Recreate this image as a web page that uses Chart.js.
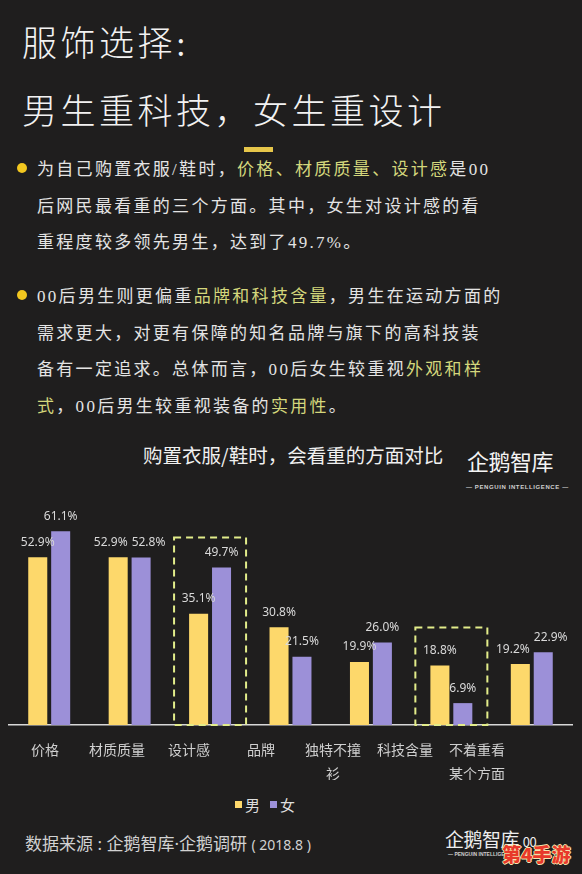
<!DOCTYPE html>
<html>
<head>
<meta charset="utf-8">
<script src="https://cdn.jsdelivr.net/npm/chart.js@4.4.0/dist/chart.umd.min.js"></script>
<style>
  body { margin: 0; background: #1f1e1e; width: 582px; height: 874px; overflow: hidden; position: relative; font-family: 'Noto Sans CJK SC', sans-serif; }
  .abs { position: absolute; white-space: nowrap; }
  .title { left: 22px; font-size: 35px; letter-spacing: 3.5px; color: #f2f2f2; line-height: 48px; font-weight: 300; font-family: 'Liberation Serif', 'Noto Sans CJK SC', serif; }
  .para { left: 37px; font-size: 17px; letter-spacing: 2.3px; color: #e4e4e4; line-height: 36.6px; font-family: 'Liberation Serif', 'Noto Sans CJK SC', serif; }
  .hl { color: #d4d77c; }
  .dot { position: absolute; left: 17px; width: 10px; height: 10px; border-radius: 50%; background: #f2c71f; }
  .legend { top: 795px; left: 235px; font-size: 15px; color: #dedede; line-height: 20px; }
  .legend i { display: inline-block; width: 7px; height: 7px; margin-right: 3px; vertical-align: 3px; }
  .legend span { margin-right: 10px; }
</style>
</head>
<body>
<div class="abs title" style="top:21px">服饰选择:</div>
<div class="abs title" style="top:89px">男生重科技，女生重设计</div>
<div class="abs" style="left:244px;top:147px;width:29px;height:5px;background:#e6c64a"></div>

<div class="dot" style="top:163px"></div>
<div class="abs para" style="top:152px">
  为自己购置衣服/鞋时，<span class="hl">价格、材质质量、设计感</span>是00<br>
  后网民最看重的三个方面。其中，女生对设计感的看<br>
  重程度较多领先男生，达到了49.7%。
</div>
<div class="dot" style="top:290px"></div>
<div class="abs para" style="top:279px">
  00后男生则更偏重<span class="hl">品牌和科技含量</span>，男生在运动方面的<br>
  需求更大，对更有保障的知名品牌与旗下的高科技装<br>
  备有一定追求。总体而言，00后女生较重视<span class="hl">外观和样</span><br>
  <span class="hl">式</span>，00后男生较重视装备的<span class="hl">实用性</span>。
</div>

<div class="abs" style="left:143px;top:442px;font-size:19.5px;color:#f0f0f0;line-height:26px">购置衣服/鞋时，会看重的方面对比</div>
<div class="abs" style="left:467px;top:444px;font-size:22px;color:#f4f4f4;line-height:32px;letter-spacing:-0.5px">企鹅智库</div>
<div class="abs" style="left:466px;top:483px;font-size:6px;color:#d0d0d0;line-height:8px;letter-spacing:0.6px;font-family:'Liberation Sans',sans-serif;font-weight:bold">— PENGUIN INTELLIGENCE —</div>

<canvas id="grafico" width="582" height="300" style="position:absolute;left:0;top:490px"></canvas>

<div class="abs legend" id="legenda"></div>

<div class="abs" style="left:25px;top:832px;font-size:17px;color:#d2d2d2;line-height:24px;font-family:'Noto Sans','Noto Sans CJK SC',sans-serif">数据来源 : 企鹅智库·企鹅调研 <span style="font-size:14px">( 2018.8 )</span></div>
<div class="abs" style="left:445px;top:826px;font-size:19px;color:#eeeeee;line-height:26px;letter-spacing:-0.5px">企鹅智库 <span style="font-size:13px">00</span></div>
<div class="abs" style="left:448px;top:851px;font-size:5px;color:#cfcfcf;line-height:6px;font-family:'Liberation Sans',sans-serif;font-weight:bold">— PENGUIN INTELLIGENCE</div>
<div class="abs" style="left:502px;top:842px;font-size:19px;line-height:24px;font-weight:900;color:#e8392a;text-shadow:1px 0 #f6e7b0,-1px 0 #f6e7b0,0 1px #f6e7b0,0 -1px #f6e7b0">第4手游</div>

<script>
// categorias do grafico
var categorias = ['价格', '材质质量', '设计感', '品牌', '独特不撞衫', '科技含量', '不着重看某个方面'];
// rotulos do eixo (com quebra de linha)
var rotulosEixo = ['价格', '材质质量', '设计感', '品牌', ['独特不撞', '衫'], '科技含量', ['不着重看', '某个方面']];
// valores em %
var homens = [52.9, 52.9, 35.1, 30.8, 19.9, 18.8, 19.2];
var mulheres = [61.1, 52.8, 49.7, 21.5, 26.0, 6.9, 22.9];
// categorias destacadas com caixa tracejada
var destaques = ['设计感', '科技含量'];

var corHomem = '#fdd86b';
var corMulher = '#9c90d8';

Chart.defaults.font.family = "'Noto Sans CJK SC', sans-serif";

// legenda em html
document.getElementById('legenda').innerHTML =
    '<span><i style="background:' + corHomem + '"></i>男</span>' +
    '<span><i style="background:' + corMulher + '"></i>女</span>';

// rotulos de valor acima das barras
var rotulosValor = {
    id: 'rotulosValor',
    afterDatasetsDraw: function (chart) {
        var ctx = chart.ctx;
        ctx.save();
        ctx.font = '12px "Noto Sans", sans-serif';
        ctx.fillStyle = '#d9d9d9';
        ctx.textAlign = 'center';
        ctx.textBaseline = 'middle';
        var m0 = chart.getDatasetMeta(0).data;
        var m1 = chart.getDatasetMeta(1).data;
        categorias.forEach(function (c, i) {
            var itens = [m0[i], m1[i]].map(function (bar, d) {
                var texto = chart.data.datasets[d].data[i].toFixed(1) + '%';
                return { texto: texto, x: bar.x, y: bar.y - 15, w: ctx.measureText(texto).width };
            });
            var a = itens[0], b = itens[1];
            if (Math.abs(a.y - b.y) < 14) {
                var falta = (a.w + b.w) / 2 + 4 - (b.x - a.x);
                if (falta > 0) { a.x -= falta / 2; b.x += falta / 2; }
            }
            itens.forEach(function (it) { ctx.fillText(it.texto, it.x, it.y); });
        });
        ctx.restore();
    }
};

// caixas tracejadas
var caixas = {
    id: 'caixas',
    afterDatasetsDraw: function (chart, args, opts) {
        var ctx = chart.ctx, x = chart.scales.x, y = chart.scales.y;
        ctx.save();
        ctx.strokeStyle = '#e2ec8a';
        ctx.lineWidth = 2;
        ctx.setLineDash([7, 5]);
        destaques.forEach(function (nome, k) {
            var i = categorias.indexOf(nome);
            var cx = x.getPixelForValue(i);
            var topo = Math.min(chart.getDatasetMeta(0).data[i].y, chart.getDatasetMeta(1).data[i].y) - opts.folga[k];
            var base = y.getPixelForValue(0);
            ctx.strokeRect(cx - 36, topo, 72, base - topo);
        });
        ctx.restore();
    }
};

var ctx = document.querySelector('#grafico').getContext('2d');
var barChart = new Chart(ctx, {
    type: 'bar',
    data: {
        labels: categorias,
        datasets: [
            { label: '男', data: homens, backgroundColor: corHomem, categoryPercentage: 0.57, barPercentage: 0.83 },
            { label: '女', data: mulheres, backgroundColor: corMulher, categoryPercentage: 0.57, barPercentage: 0.83 }
        ]
    },
    options: {
        responsive: false,
        animation: false,
        layout: { padding: { top: 13, left: 9, right: 10, bottom: 10 } },
        plugins: {
            legend: { display: false },
            tooltip: { enabled: false },
            caixas: { folga: [30, 38] }
        },
        scales: {
            x: {
                type: 'category',
                weight: 0,
                grid: { display: false },
                ticks: { display: false },
                border: { color: '#d8d8d8', width: 1.5 },
                afterFit: function (s) { s.height = 0; }
            },
            xl: {
                type: 'linear',
                position: 'bottom',
                weight: 1,
                offset: false,
                bounds: 'data',
                min: -0.5,
                max: 7.32,
                grid: { display: false, drawTicks: false, offset: false },
                border: { display: false },
                ticks: {
                    autoSkip: false,
                    maxRotation: 0,
                    padding: 12,
                    color: '#cfcfcf',
                    font: { size: 14, lineHeight: 1.75 },
                    callback: function (v) { return rotulosEixo[Math.round(v)] || ''; }
                },
                afterBuildTicks: function (s) {
                    s.ticks = rotulosEixo.map(function (r, i) { return { value: i }; });
                },
                afterFit: function (s) { s.height = 55; }
            },
            y: {
                display: false,
                min: 0,
                max: 70
            }
        }
    },
    plugins: [rotulosValor, caixas]
});
</script>
</body>
</html>
